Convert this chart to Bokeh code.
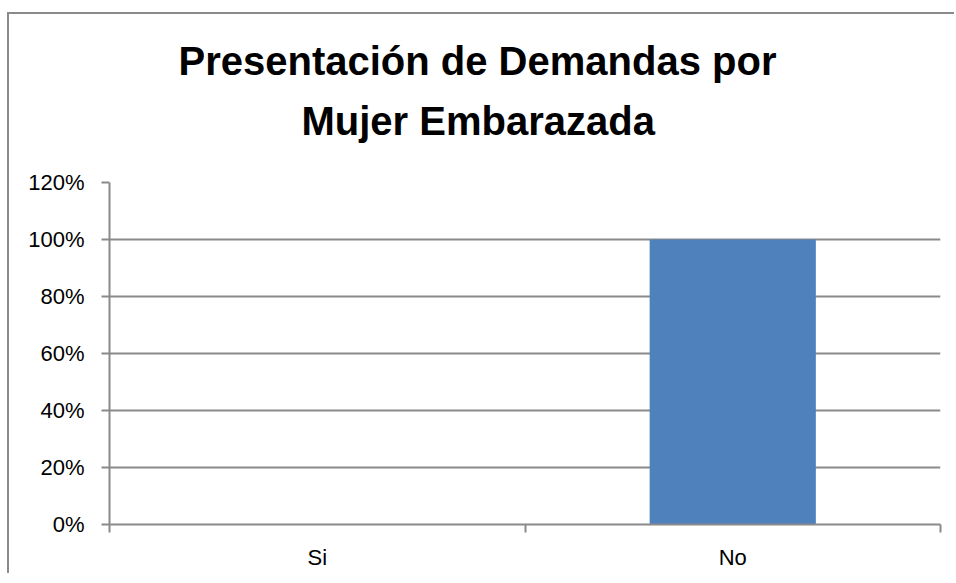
from bokeh.plotting import figure
from bokeh.models import Range1d, FixedTicker, NumeralTickFormatter, Title
from bokeh.embed import file_html
from bokeh.resources import INLINE

categories = ["Si", "No"]
values = [0.0, 1.0]
y_ticks = [0.0, 0.2, 0.4, 0.6, 0.8, 1.0, 1.2]
title_line1 = "Presentación de Demandas por"
title_line2 = "Mujer Embarazada"

GRAY = "#8a8a8a"
FONT = "Liberation Sans"

positions = [i + 0.5 for i in range(len(categories))]
boundaries = [i for i in range(len(categories) + 1)]

p = figure(width=947, height=561, output_backend="svg", toolbar_location=None,
           x_range=Range1d(0, len(categories)), y_range=Range1d(0, 1.2),
           min_border_left=100, min_border_right=16, min_border_top=168,
           min_border_bottom=51)
p.styles = {"border-top": f"2px solid {GRAY}", "border-left": f"2px solid {GRAY}",
            "transform": "translate(7px, 12px)"}
p.outline_line_color = None
p.background_fill_color = "white"
p.border_fill_color = "white"

# spacer between title block and plot area (closest to the frame)
spacer = Title(text=" ", text_font=FONT, text_font_size="10px", standoff=27)
p.add_layout(spacer, "above")

t2 = Title(text=title_line2, text_font=FONT, text_font_size="40px",
           text_font_style="bold", align="left", text_color="black",
           offset=192, standoff=0)
p.add_layout(t2, "above")

p.title.text = title_line1
p.title.text_font = FONT
p.title.text_font_size = "40px"
p.title.text_font_style = "bold"
p.title.align = "left"
p.title.offset = 69
p.title.standoff = 28
p.title.text_color = "black"

p.vbar(x=positions, top=values, width=0.4, bottom=0, color="#4F81BD", line_color=None)

# x axis
p.xaxis.ticker = FixedTicker(ticks=positions, minor_ticks=boundaries)
p.xaxis.major_label_overrides = {pos: c for pos, c in zip(positions, categories)}
p.xaxis.major_tick_out = 0
p.xaxis.major_tick_in = 0
p.xaxis.minor_tick_out = 8
p.xaxis.minor_tick_in = 0
p.xaxis.minor_tick_line_color = GRAY
p.xaxis.minor_tick_line_width = 2
p.xaxis.axis_line_color = GRAY
p.xaxis.axis_line_width = 2
p.xaxis.major_label_text_font = FONT
p.xaxis.major_label_text_font_size = "22px"
p.xaxis.major_label_text_color = "black"
p.xaxis.major_label_standoff = 12
p.xgrid.grid_line_color = None

# y axis
p.yaxis.ticker = FixedTicker(ticks=y_ticks)
p.yaxis.formatter = NumeralTickFormatter(format="0%")
p.yaxis.major_tick_out = 8
p.yaxis.major_tick_in = 0
p.yaxis.minor_tick_line_color = None
p.yaxis.major_tick_line_color = GRAY
p.yaxis.major_tick_line_width = 2
p.yaxis.axis_line_color = GRAY
p.yaxis.axis_line_width = 2
p.yaxis.major_label_text_font = FONT
p.yaxis.major_label_text_font_size = "22px"
p.yaxis.major_label_text_color = "black"
p.yaxis.major_label_standoff = 17
p.ygrid.grid_line_color = GRAY
p.ygrid.grid_line_width = 2
p.ygrid.ticker = FixedTicker(ticks=y_ticks)

open("out.html", "w").write(file_html(p, INLINE))
